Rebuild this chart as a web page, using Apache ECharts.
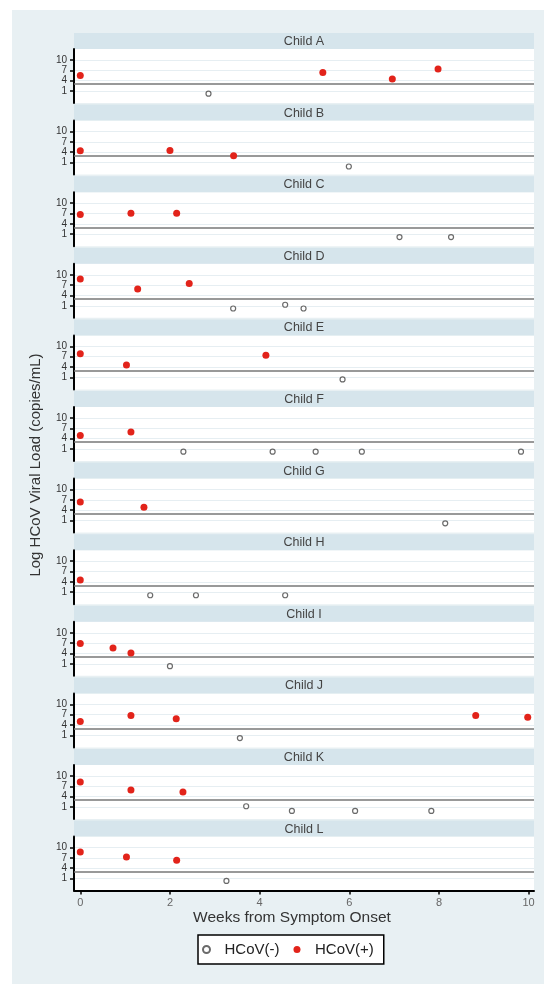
<!DOCTYPE html>
<html><head><meta charset="utf-8">
<script src="https://cdn.jsdelivr.net/npm/echarts@6/dist/echarts.min.js"></script>
<style>
html,body{margin:0;padding:0;background:#fff;}
#bg{position:absolute;left:12px;top:10px;width:532px;height:974px;background:#e8f0f3;}
#c{position:absolute;left:0;top:0;width:544px;height:984px;}
</style>
</head><body><div id="bg"></div><div id="c"></div>
<script>
// ---------- data ----------
const childNames = ['Child A','Child B','Child C','Child D','Child E','Child F',
                    'Child G','Child H','Child I','Child J','Child K','Child L'];
// HCoV(+) samples per child: [weeks, log viral load]
const posPoints = [
  [[0,5.5],[5.41,6.4],[6.96,4.5],[7.98,7.35]],
  [[0,4.45],[2.0,4.5],[3.42,3.0]],
  [[0,6.75],[1.13,7.1],[2.15,7.1]],
  [[0,8.8],[1.28,5.9],[2.43,7.45]],
  [[0,7.9],[1.03,4.6],[4.14,7.45]],
  [[0,4.9],[1.13,5.9]],
  [[0,6.4],[1.42,4.9]],
  [[0,4.5]],
  [[0,6.9],[0.73,5.55],[1.13,4.1]],
  [[0,5.0],[1.13,6.8],[2.14,5.85],[8.82,6.8],[9.98,6.3]],
  [[0,8.27],[1.13,5.94],[2.29,5.36]],
  [[0,8.75],[1.03,7.3],[2.15,6.33]]
];
// HCoV(-) samples per child
const negPoints = [
  [[2.86,0.2]],
  [[5.99,-0.15]],
  [[7.12,0.15],[8.27,0.15]],
  [[3.41,0.2],[4.57,1.3],[4.98,0.2]],
  [[5.85,0.4]],
  [[2.3,0.2],[4.29,0.2],[5.25,0.2],[6.28,0.2],[9.83,0.2]],
  [[8.14,0.2]],
  [[1.56,0.1],[2.58,0.1],[4.57,0.1]],
  [[2.0,0.3]],
  [[3.56,0.2]],
  [[3.7,1.2],[4.72,-0.15],[6.13,-0.15],[7.83,-0.15]],
  [[3.26,0.3]]
];
const yTicks = [1,4,7,10];
const xTicks = [0,2,4,6,8,10];
const detectionLimit = 3;
const legendNames = ['HCoV(-)','HCoV(+)'];
const xTitle = 'Weeks from Symptom Onset';
const yTitle = 'Log HCoV Viral Load (copies/mL)';

// ---------- layout ----------
const FONT = "'Liberation Sans', Arial, sans-serif";
const PLOT_L = 74, PLOT_W = 460, PANEL_T0 = 33, PERIOD = 71.6, HEAD_H = 16, PLOT_H = 54;
const X_MIN = -0.14, X_MAX = 10.12, Y_MIN = -2.5, Y_MAX = 13.2;
const n = childNames.length;

const grid = [], xAxis = [], yAxis = [], series = [], graphic = [];
childNames.forEach((name, i) => {
  const headTop = PANEL_T0 + PERIOD * i;
  const last = i === n - 1;
  grid.push({left: PLOT_L, width: PLOT_W, top: headTop + HEAD_H, height: PLOT_H,
             show: true, backgroundColor: '#ffffff', borderWidth: 0});
  xAxis.push({type: 'value', gridIndex: i, min: X_MIN, max: X_MAX, show: true,
    axisLine: {show: last, onZero: false, lineStyle: {color: '#000', width: 2}},
    axisTick: {show: last, customValues: xTicks, length: 4, lineStyle: {color: '#000', width: 1.5}},
    axisLabel: {show: last, customValues: xTicks, color: '#666', fontSize: 11, margin: 7, fontFamily: FONT},
    splitLine: {show: false}});
  yAxis.push({type: 'value', gridIndex: i, min: Y_MIN, max: Y_MAX,
    axisLine: {show: true, onZero: false, lineStyle: {color: '#000', width: 2}},
    axisTick: {show: true, customValues: yTicks, length: 4, lineStyle: {color: '#000', width: 1.5}},
    axisLabel: {customValues: yTicks, color: '#333', fontSize: 10, margin: 7, fontFamily: FONT},
    splitLine: {show: true, lineStyle: {color: '#e6eef2', width: 1}}});
  series.push({type: 'scatter', name: legendNames[0], xAxisIndex: i, yAxisIndex: i,
    data: negPoints[i], symbol: 'circle', symbolSize: 5, z: 4,
    itemStyle: {color: '#ffffff', borderColor: '#6a6a6a', borderWidth: 1.2, opacity: 1}});
  series.push({type: 'scatter', name: legendNames[1], xAxisIndex: i, yAxisIndex: i,
    data: posPoints[i], symbol: 'circle', symbolSize: 7, z: 5,
    itemStyle: {color: '#e2231a', opacity: 1},
    markLine: {silent: true, symbol: 'none', animation: false, label: {show: false},
      lineStyle: {color: '#777777', width: 1.5, type: 'solid'},
      data: [{yAxis: detectionLimit}]}});
  graphic.push({type: 'rect', silent: true,
    shape: {x: PLOT_L, y: headTop, width: PLOT_W, height: HEAD_H},
    style: {fill: '#d6e5ec'}});
  graphic.push({type: 'text', silent: true, x: PLOT_L + PLOT_W / 2, y: headTop + HEAD_H / 2 + 0.5,
    style: {text: name, fill: '#444', font: '12.5px ' + FONT, textAlign: 'center', textVerticalAlign: 'middle'}});
});
graphic.push({type: 'text', silent: true, x: 36, y: 465, rotation: Math.PI / 2,
  style: {text: yTitle, fill: '#333', font: '15px ' + FONT, textAlign: 'center', textVerticalAlign: 'middle'}});
graphic.push({type: 'text', silent: true, x: 292, y: 918,
  style: {text: xTitle, fill: '#333', font: '15.5px ' + FONT, textAlign: 'center', textVerticalAlign: 'middle'}});

const chart = echarts.init(document.getElementById('c'), null, {renderer: 'canvas'});
chart.setOption({
  animation: false,
  backgroundColor: 'transparent',
  grid, xAxis, yAxis, series, graphic,
  legend: {data: legendNames, left: 198, top: 935, orient: 'horizontal',
    itemWidth: 12, itemHeight: 7, itemGap: 14, padding: [7, 10, 7, 4],
    borderColor: '#000', borderWidth: 1.5, borderRadius: 0, backgroundColor: '#fff',
    textStyle: {fontSize: 15, color: '#222', fontFamily: FONT, padding: [0, 0, 0, 7]}}
});
</script></body></html>
